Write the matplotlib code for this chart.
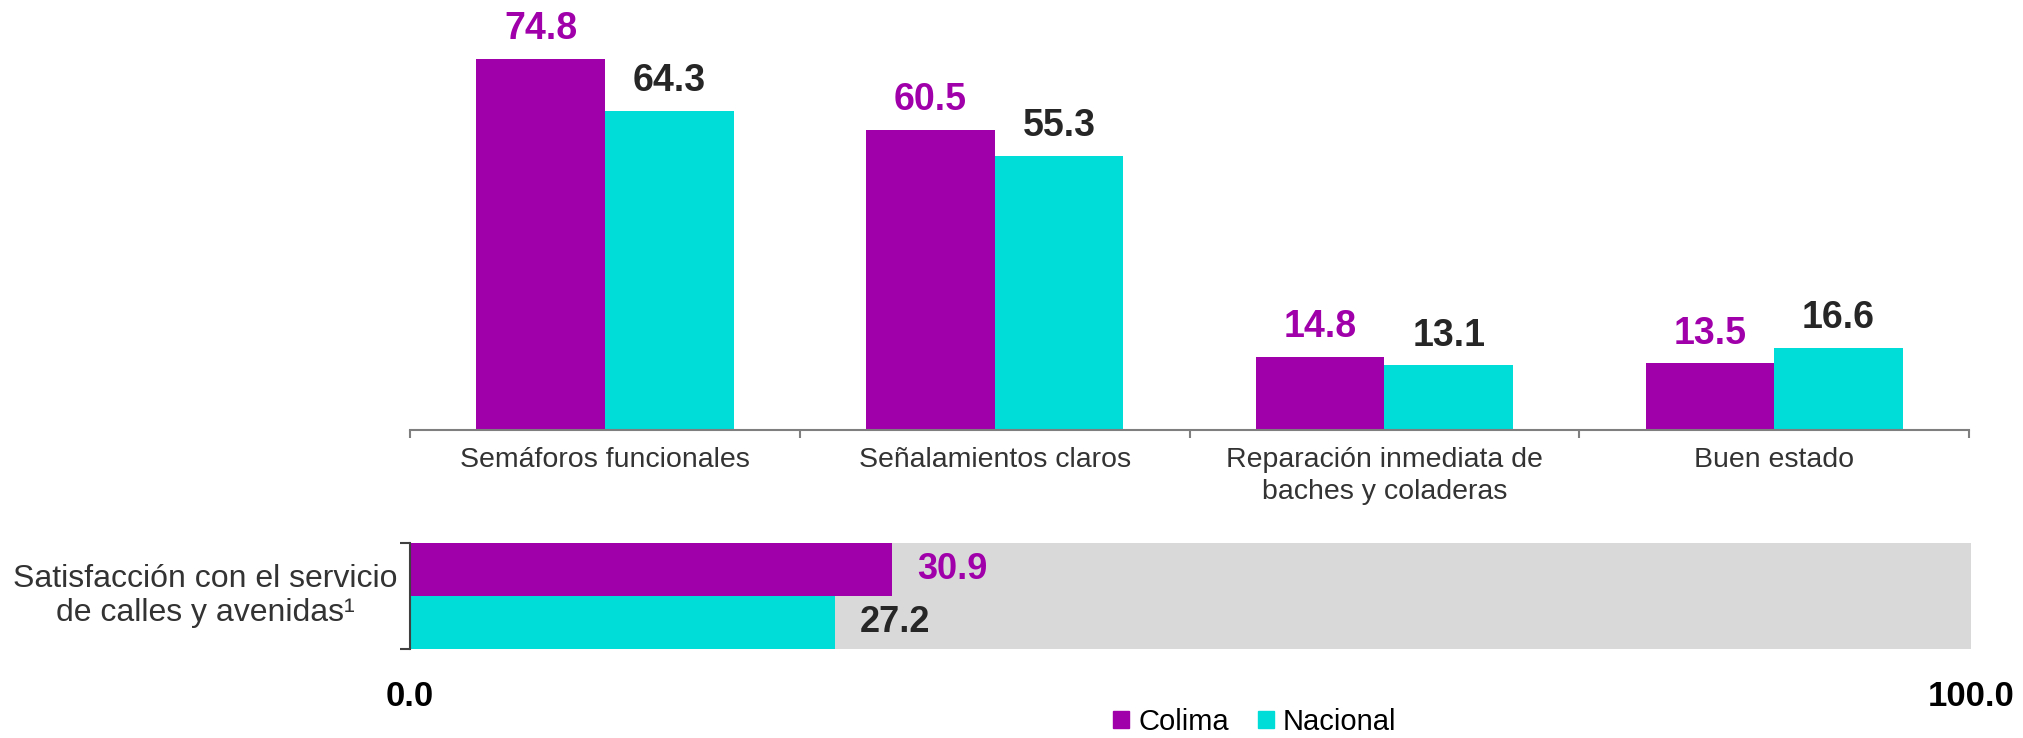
import numpy as np
import matplotlib
matplotlib.use('Agg')
import matplotlib.pyplot as plt
from matplotlib.patches import Patch

plt.rcParams['font.family'] = ['Liberation Sans', 'DejaVu Sans']

# datos
categorias = ['Semáforos funcionales', 'Señalamientos claros',
              'Reparación inmediata de\nbaches y coladeras', 'Buen estado']
colima = [74.8, 60.5, 14.8, 13.5]
nacional = [64.3, 55.3, 13.1, 16.6]

satisf_label = 'Satisfacción con el servicio\nde calles y avenidas¹'
satisf_colima = 30.9
satisf_nacional = 27.2

morado = '#A000AA'
cian = '#00DCD8'
gris = '#D9D9D9'
texto_oscuro = '#262626'

fig = plt.figure(figsize=(20.24, 7.38), dpi=100)

# --- grafica de barras superior ---
ax = fig.add_axes([0.2026, 0.4173, 0.7703, 0.538])
x = np.arange(len(categorias))
w = 0.33
b1 = ax.bar(x - w / 2, colima, w, color=morado)
b2 = ax.bar(x + w / 2, nacional, w, color=cian)

for rect, v in zip(b1, colima):
    ax.annotate(f'{v:.1f}', (rect.get_x() + rect.get_width() / 2, v),
                xytext=(0, 14), textcoords='offset points', ha='center',
                va='baseline', fontsize=27, fontweight='bold', color=morado,
                annotation_clip=False)
for rect, v in zip(b2, nacional):
    ax.annotate(f'{v:.1f}', (rect.get_x() + rect.get_width() / 2, v),
                xytext=(0, 14), textcoords='offset points', ha='center',
                va='baseline', fontsize=27, fontweight='bold', color=texto_oscuro,
                annotation_clip=False)

ax.set_xlim(-0.5, len(categorias) - 0.5)
ax.set_ylim(0, 80)
for s in ['top', 'right', 'left']:
    ax.spines[s].set_visible(False)
ax.spines['bottom'].set_color('#7F7F7F')
ax.spines['bottom'].set_linewidth(1.5)
ax.set_yticks([])
ax.set_xticks(np.arange(-0.5, len(categorias)), labels=[''] * (len(categorias) + 1))
ax.tick_params(axis='x', which='major', length=6, width=1.5, color='#7F7F7F')
ax.set_xticks(x, labels=categorias, minor=True)
ax.tick_params(axis='x', which='minor', length=0, pad=12, labelsize=20.5,
               labelcolor='#333333')
for lbl in ax.get_xticklabels(minor=True):
    lbl.set_linespacing(1.3)

# --- barra de satisfaccion ---
ax2 = fig.add_axes([0.2026, 0.1206, 0.7712, 0.1436])
ax2.barh([0.5], [100], height=2, color=gris)
ax2.barh([1], [satisf_colima], height=1, color=morado)
ax2.barh([0], [satisf_nacional], height=1, color=cian)
ax2.annotate(f'{satisf_colima:.1f}', (satisf_colima, 1), xytext=(18, 0),
             textcoords='offset points', ha='left', va='center', fontsize=26,
             fontweight='bold', color=morado)
ax2.annotate(f'{satisf_nacional:.1f}', (satisf_nacional, 0), xytext=(18, 0),
             textcoords='offset points', ha='left', va='center', fontsize=26,
             fontweight='bold', color=texto_oscuro)
ax2.set_xlim(0, 100)
ax2.set_ylim(-0.5, 1.5)
for s in ['top', 'right', 'bottom']:
    ax2.spines[s].set_visible(False)
ax2.spines['left'].set_color('#404040')
ax2.spines['left'].set_linewidth(1.5)
ax2.set_yticks([-0.5, 1.5], labels=['', ''])
ax2.tick_params(axis='y', length=7, width=1.5, color='#404040')
ax2.set_xticks([0, 100], labels=['0.0', '100.0'])
ax2.tick_params(axis='x', length=0, pad=22, labelsize=25)
for lbl in ax2.get_xticklabels():
    lbl.set_fontweight('bold')
ax2.text(-0.131, 0.5, satisf_label, transform=ax2.transAxes, ha='center',
         va='center', multialignment='center', fontsize=23, color='#333333',
         linespacing=1.2)

# leyenda
handles = [Patch(color=morado, label='Colima'), Patch(color=cian, label='Nacional')]
fig.legend(handles=handles, loc='center', bbox_to_anchor=(0.6200, 0.022), ncol=2,
           frameon=False, fontsize=21, handlelength=0.56, handleheight=0.56,
           handletextpad=0.3, columnspacing=1.0, borderaxespad=0, borderpad=0)

fig.savefig('out.png', dpi=100)
